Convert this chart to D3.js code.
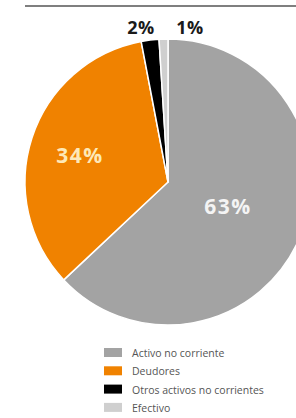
<!DOCTYPE html>
<html>
<head>
<meta charset="utf-8">
<script src="https://cdn.jsdelivr.net/npm/d3@7"></script>
<style>
  body { margin: 0; background: #fff; }
  svg { display: block; }
</style>
</head>
<body>
<script>
// data
var categories = ["Activo no corriente", "Deudores", "Otros activos no corrientes", "Efectivo"];
var values = [63, 34, 2, 1];
var labels = ["63%", "34%", "2%", "1%"];
var colours = ["#a3a3a3", "#f08200", "#000000", "#cfcfcf"];

var w = 296, h = 418;
var cx = 168, cy = 182, radius = 143;

var svg = d3.select("body").append("svg")
    .attr("width", w)
    .attr("height", h);

// rule at the top
svg.append("line")
    .attr("x1", 25).attr("x2", w)
    .attr("y1", 6).attr("y2", 6)
    .attr("stroke", "#555")
    .attr("stroke-width", 1.5);

var pie = d3.pie().sort(null).value(function(d){ return d; });
var arcs = pie(values);

var arc = d3.arc().innerRadius(0).outerRadius(radius);

var g = svg.append("g")
    .attr("transform", "translate(" + cx + "," + cy + ")");

g.selectAll("path")
    .data(arcs)
    .enter()
    .append("path")
    .attr("d", arc)
    .attr("fill", function(d, i){ return colours[i]; })
    .attr("stroke", "#fff")
    .attr("stroke-width", 1.5)
    .attr("stroke-linejoin", "round");

// label spots, big slices inside, small ones above the pie
var labelPos = [[60, 25], [-88, -26], [-27, -154], [22, -154]];

g.selectAll("text.lab")
    .data(arcs)
    .enter()
    .append("text")
    .attr("class", "lab")
    .attr("transform", function(d, i){
        return "translate(" + labelPos[i][0] + "," + labelPos[i][1] + ")";
    })
    .attr("text-anchor", "middle")
    .attr("dy", "0.35em")
    .style("font-family", "'Open Sans', sans-serif")
    .style("font-weight", "bold")
    .style("font-size", function(d, i){ return i < 2 ? "21px" : "18px"; })
    .style("letter-spacing", function(d, i){ return i < 2 ? "1.5px" : "0.5px"; })
    .attr("fill", function(d, i){
        if (i == 0) return "#f4f4f4";
        if (i == 1) return "#fde9b8";
        return "#1a1a1a";
    })
    .text(function(d, i){ return labels[i]; });

// legend
var legend = svg.append("g")
    .attr("transform", "translate(104,348)");

var row = legend.selectAll("g")
    .data(categories)
    .enter()
    .append("g")
    .attr("transform", function(d, i){ return "translate(0," + (i * 18.3) + ")"; });

row.append("rect")
    .attr("width", 18)
    .attr("height", 9)
    .attr("fill", function(d, i){ return colours[i]; });

row.append("text")
    .attr("x", 28)
    .attr("y", 9)
    .style("font-family", "'Open Sans', sans-serif")
    .style("font-size", "10.5px")
    .attr("fill", "#555")
    .text(function(d){ return d; });
</script>
</body>
</html>
